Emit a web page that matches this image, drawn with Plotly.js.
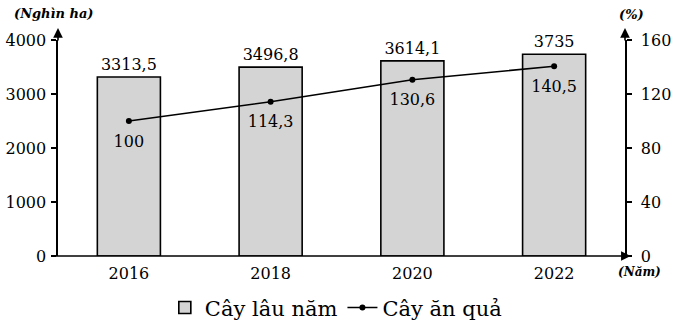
<!DOCTYPE html>
<html><head><meta charset="utf-8">
<script src="https://cdn.plot.ly/plotly-3.0.1.min.js"></script>
<style>html,body{margin:0;padding:0;background:#fff}#c{width:674px;height:327px}</style>
</head><body><div id="c"></div>
<script>
const years = ['2016', '2018', '2020', '2022'];
const perennialArea = [3313.5, 3496.8, 3614.1, 3735];
const fruitIndex = [100, 114.3, 130.6, 140.5];
const leftTicks = [0, 1000, 2000, 3000, 4000];
const rightTicks = [0, 40, 80, 120, 160];

const fmt = v => String(v).replace('.', ',');
const F = 'DejaVu Serif';

const bar = {
  type: 'bar', x: years, y: perennialArea, name: 'Cây lâu năm',
  marker: {color: '#d4d4d4', line: {color: '#000', width: 1.6}},
  text: perennialArea.map(fmt), textposition: 'outside', cliponaxis: false,
  textfont: {family: F, size: 16, color: '#000'}, hoverinfo: 'skip'
};
const line = {
  type: 'scatter', mode: 'lines+markers', x: years, y: fruitIndex, yaxis: 'y2',
  name: 'Cây ăn quả', line: {color: '#000', width: 1.6}, marker: {color: '#000', size: 6},
  cliponaxis: false, hoverinfo: 'skip'
};
const lineLabels = {
  type: 'scatter', mode: 'markers+text', x: years, y: fruitIndex, yaxis: 'y2', showlegend: false,
  marker: {size: 20, opacity: 0}, text: fruitIndex.map(fmt), textposition: 'bottom center', cliponaxis: false,
  textfont: {family: F, size: 16, color: '#000'}, hoverinfo: 'skip'
};

const arrow = (x, y, ax, ay) => ({xref: 'paper', yref: 'paper', x, y, ax, ay, axref: 'pixel', ayref: 'pixel',
  text: '', showarrow: true, arrowhead: 2, arrowsize: 1.2, arrowwidth: 1.6, arrowcolor: '#000'});

const layout = {
  width: 674, height: 327, margin: {l: 58, r: 49, t: 40, b: 71, autoexpand: false},
  paper_bgcolor: '#fff', plot_bgcolor: '#fff', bargap: 0.555, showlegend: true,
  font: {family: F, color: '#000', size: 16},
  xaxis: {type: 'category', showline: false, ticks: '', showgrid: false, zeroline: false,
    tickfont: {family: F, size: 16}, range: [-0.5, 3.5], fixedrange: true, ticklabelstandoff: 6},
  yaxis: {range: [0, 4000], tickvals: leftTicks, ticktext: leftTicks.map(String), showline: true,
    linecolor: '#000', linewidth: 1.6, ticks: 'outside', ticklen: 5, tickwidth: 1.4, tickcolor: '#000',
    showgrid: false, zeroline: false, tickfont: {family: F, size: 16}, ticklabelstandoff: 2},
  yaxis2: {overlaying: 'y', side: 'right', range: [0, 160], tickvals: rightTicks, ticktext: rightTicks.map(String),
    showline: true, linecolor: '#000', linewidth: 1.6, ticks: 'outside', ticklen: 5, tickwidth: 1.4, tickcolor: '#000',
    showgrid: false, zeroline: false, tickfont: {family: F, size: 16}, ticklabelstandoff: 6},
  legend: {orientation: 'h', x: 0.49, xanchor: 'center', y: -0.24, yanchor: 'middle',
    font: {family: F, size: 21}, itemwidth: 30, tracegroupgap: 0},
  shapes: [
    {type: 'line', xref: 'paper', yref: 'paper', x0: -0.007, x1: 1.0, y0: 0, y1: 0, line: {color: '#000', width: 1.6}}
  ],
  annotations: [
    arrow(0, 1.055, 0, 14), arrow(1, 1.055, 0, 14), arrow(1.01, 0, -10, 0),
    {xref: 'paper', yref: 'paper', x: -0.081, y: 1.125, xanchor: 'left', yanchor: 'middle', showarrow: false,
      text: '<b><i>(Nghìn ha)</i></b>', font: {family: F, size: 13}},
    {xref: 'paper', yref: 'paper', x: 1.011, y: 1.12, xanchor: 'center', yanchor: 'middle', showarrow: false,
      text: '<b><i>(%)</i></b>', font: {family: F, size: 13}},
    {xref: 'paper', yref: 'paper', x: 1.025, y: -0.075, xanchor: 'center', yanchor: 'middle', showarrow: false,
      text: '<b><i>(Năm)</i></b>', font: {family: F, size: 12}}
  ]
};
Plotly.newPlot('c', [bar, line, lineLabels], layout, {displayModeBar: false, staticPlot: true});
</script></body></html>
